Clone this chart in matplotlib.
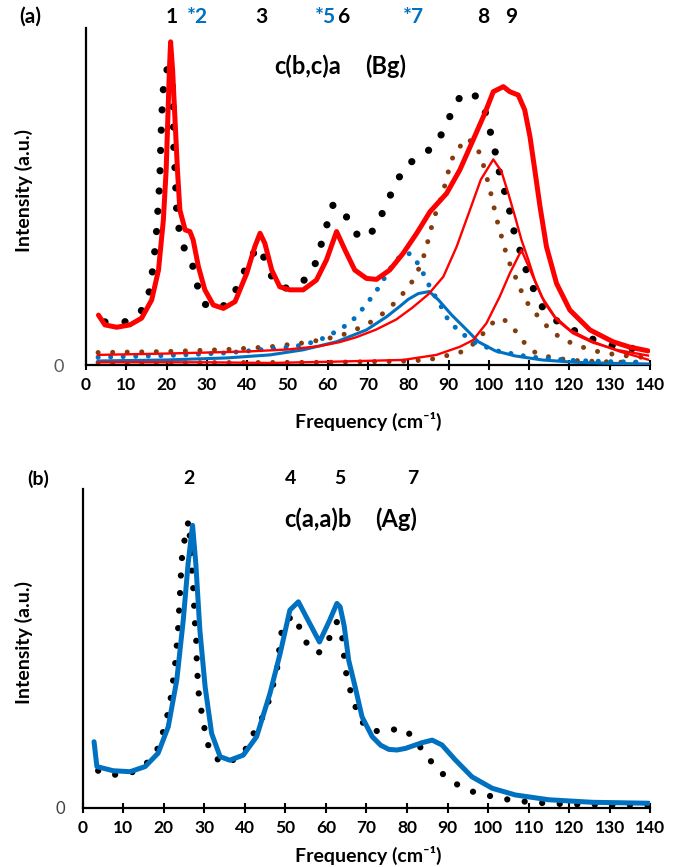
import numpy as np
import matplotlib
matplotlib.use('Agg')
import matplotlib.pyplot as plt

plt.rcParams['font.family'] = ['Lato', 'DejaVu Sans']

W, H = 684, 867

# ---------------- (a) c(b,c)a  Bg ----------------
exp_a_f = [4.7, 9.3, 13.4, 15.5, 16.3, 16.9, 17.4, 17.7, 18.1, 18.4, 18.6, 18.8, 19.0, 19.4, 20.2,
           21.4, 21.6, 21.7, 21.8, 22.1, 22.3, 22.5, 23.1, 24.4, 26.5, 27.6, 29.5, 31.5, 34.1, 37.0,
           39.0, 41.1, 43.2, 44.8, 46.9, 49.3, 51.6, 54.8, 57.2, 58.5, 59.9, 61.4, 64.3, 66.5, 68.5,
           70.2, 72.8, 74.8, 76.9, 79.2, 83.1, 86.8, 89.1, 91.1, 93.5, 97.3, 99.4, 100.5, 101.7,
           102.7, 104.0, 105.2, 106.2, 107.7, 109.2, 111.0, 113.1, 116.4, 120.9, 125.2, 130.0,
           135.0, 139.5]
exp_a_i = [12.8, 12.6, 15.3, 20.5, 26.0, 31.8, 37.6, 43.5, 50.0, 58.0, 67.3, 73.2, 78.9, 84.8, 88.0,
           84.0, 78.0, 72.0, 64.0, 58.0, 52.0, 46.0, 40.3, 34.6, 29.4, 23.7, 18.1, 16.5, 17.5, 21.8,
           27.0, 32.6, 35.1, 29.7, 24.2, 22.8, 23.2, 25.7, 30.7, 36.3, 42.0, 47.8, 44.8, 39.6, 37.5,
           38.1, 43.0, 48.5, 53.7, 59.1, 62.0, 65.3, 70.4, 75.9, 80.9, 79.6, 74.2, 68.5, 62.6,
           56.7, 51.1, 45.5, 39.9, 34.1, 28.4, 22.8, 17.5, 13.4, 10.4, 7.9, 5.9,
           5.0, 4.3]

fit_a_f = [3.1, 4.7, 7.6, 10.9, 13.8, 16.3, 18.0, 19.2, 19.9, 20.3, 20.7, 21.0, 21.5, 22.1, 22.7,
           23.3, 24.6, 25.8, 26.6, 27.9, 29.5, 31.6, 34.1, 37.0, 39.9, 41.9, 43.2, 44.4, 46.1, 48.1,
           50.6, 53.9, 57.2, 59.7, 62.2, 64.3, 66.7, 69.6, 72.1, 75.4, 78.7, 82.1, 85.4, 89.5, 92.8,
           96.1, 99.0, 101.1, 103.6, 105.2, 107.3, 108.9, 110.2, 111.4, 112.7, 114.3, 116.8, 120.1,
           125.1, 130.8, 135.0, 139.5]
fit_a_i = [14.8, 11.9, 11.2, 11.9, 13.9, 19.3, 28.2, 43.0, 57.9, 72.7, 87.5, 95.9, 87.5, 72.7, 57.9,
           46.0, 40.1, 39.6, 37.1, 29.2, 22.3, 17.8, 16.8, 18.8, 27.2, 35.1, 39.1, 36.1, 28.2, 23.2,
           22.3, 22.3, 25.2, 31.2, 39.6, 34.1, 28.2, 25.7, 25.4, 28.2, 33.1, 39.1, 45.5, 50.9, 57.9,
           66.8, 74.7, 81.1, 82.6, 81.1, 80.1, 75.7, 67.8, 57.9, 47.0, 35.1, 24.2, 16.3,
           10.4, 6.9, 5.3, 4.2]

# band 8 component (red, thin)
c8_f = [3, 20, 40, 50, 58, 63, 67, 72, 77, 81, 85, 88.7, 92, 95.3, 98, 101.1, 103.1, 104.8, 106.5,
        108.1, 109.8, 111.4, 113.9, 116.8, 120.9, 125.9, 131.7, 139.5]
c8_i = [3.0, 3.4, 4.0, 4.6, 5.6, 6.8, 8.2, 10.5, 13.5, 17.0, 21.0, 26.2, 35.1, 46.0, 55.0, 61.0,
        57.5, 51.0, 44.0, 37.1, 31.2, 25.2, 18.3, 13.4, 9.4, 6.6, 4.5, 2.8]

# band 9 component (red, thin)
c9_f = [3, 30, 45.7, 62, 78.7, 87, 92.8, 96.1, 99.4, 102.7, 105.2, 108.1, 110.6, 113.1, 116.4,
        120.1, 125.9, 132.5, 139.5]
c9_i = [0.8, 0.8, 0.6, 1.0, 1.5, 3.0, 5.4, 7.4, 12.4, 20.3, 27.2, 34.1, 27.2, 20.3, 14.3,
        10.4, 6.9, 4.0, 1.6]

# band near 85 (blue, solid)
cb_f = [3, 20, 35, 45.7, 53.9, 62.2, 69.6, 74.6, 78.0, 80.0, 82.5, 85.2, 87.5, 90.8, 94.1, 97.4,
        101.6, 106.5, 113.2, 121.4, 130, 139.6]
cb_i = [1.2, 1.5, 2.1, 3.0, 4.5, 6.9, 10.4, 14.3, 17.5, 19.5, 21.2, 21.8, 19.3, 14.8, 10.9, 6.9,
        4.2, 2.7, 1.5, 0.8, 0.5, 0.3]

# band *7 (blue, dotted)
c7_f = [3, 20, 35, 48.6, 51.4, 54.3, 57.2, 60.2, 62.9, 65.5, 67.6, 69.6, 71.7, 73.4, 75.0, 76.7,
        78.8, 80.5, 81.7, 83.3, 84.7, 86.2, 87.8, 89.1, 91.0, 93.5, 97, 102, 110, 120, 130, 139.5]
c7_i = [2.3, 2.8, 3.6, 5.1, 5.4, 6.1, 7.1, 8.6, 10.6, 12.4, 15.1, 18.1, 21.3, 24.4, 27.7, 30.7,
        33.1, 33.0, 31.4, 28.2, 24.7, 21.3, 18.3, 14.8, 11.9, 9.2, 6.3, 4.2, 2.4, 1.4, 1.0, 0.8]

# brown dotted components
br1_f = [3, 20, 35, 45.7, 55, 63, 66.3, 69.6, 72.5, 75.4, 77.5, 80, 82.1, 83.5, 84.5, 85.4, 86.2,
         87.4, 88.5, 89.5, 90.3, 91.6, 93.2, 94.5, 96.8, 98.2, 100.1, 100.9, 101.7, 102.6, 103.6,
         104.5, 105.9, 107.3, 108.6, 110.6, 113.1, 115.3, 118.4, 121.8, 125, 128.4, 132.1, 135.8,
         139.1]
br1_i = [3.7, 4.0, 4.6, 5.4, 6.7, 8.6, 10.2, 11.9, 14.2, 16.8, 19.8, 22.8, 27.2, 30.9, 35.1, 39.1,
         43.0, 47.0, 50.9, 55.1, 59.3, 63.3, 65.3, 67.3, 65.3, 61.3, 52.9, 48.8, 44.5, 40.3, 36.3,
         32.1, 28.0, 24.2, 20.3, 16.5, 13.4, 10.2, 7.6, 5.9, 4.6, 3.6, 3.0, 2.5,
         2.2]
br2_f = [3, 30, 60, 78, 85, 88.3, 92.5, 95.4, 98, 100.5, 103.4, 106.1, 108.6, 111, 114, 118, 122,
         128, 134, 139.5]
br2_i = [0.7, 0.7, 0.8, 1.1, 1.5, 2.5, 3.5, 5.4, 8.5, 12.2, 13.9, 10.9, 6.9, 4.0, 2.6, 1.8, 1.3,
         1.0, 0.8, 0.7]

labels_a = ['1', '*2', '3', '*5', '6', '*7', '8', '9']
labels_a_x = [172, 197, 261, 325, 343, 413, 483, 511]
labels_a_c = ['k', 'b', 'k', 'b', 'k', 'b', 'k', 'k']

# ---------------- (b) c(a,a)b  Ag ----------------
exp_b_f = [3.8, 7.5, 11.7, 15.4, 18.2, 19.5, 20.5, 21.4, 22.0, 22.5, 23.0, 23.3, 23.6, 23.8, 24.0,
           24.2, 24.4, 25.0, 25.5, 26.2, 26.7, 27.0, 27.3, 27.5, 27.7, 28.0, 28.1, 28.3, 28.5, 29.1,
           29.7, 30.4, 31.4, 34.3, 38.4, 41.0, 42.5, 44.4, 45.8, 46.9, 47.9, 48.4, 48.7, 49.9, 52.0,
           54.0, 55.3, 58.1, 60.6, 62.7, 64.0, 64.8, 65.6, 66.9, 68.1, 70.4, 74.2, 78.1, 79.2, 81.1,
           83.5, 86.0, 88.6, 91.9, 95.4, 99.3, 103.3, 107.1, 111.2, 114.9, 120, 130, 139.5]
exp_b_i = [11.6, 10.3, 10.8, 13.4, 17.6, 22.3, 27.0, 31.7, 36.9, 42.1, 47.3, 52.6, 57.3, 62.5, 67.2,
           72.4, 77.6, 82.9, 87.6, 90.0, 78.7, 73.5, 68.2, 63.0, 57.8, 52.6, 47.3, 42.1, 36.9, 31.7,
           27.3, 22.3, 17.6, 13.9, 15.5, 19.7, 24.4, 28.5, 33.2, 38.2, 43.2, 48.2, 53.6, 58.3, 60.4,
           55.2, 51.5, 48.4, 52.6, 58.3, 53.6, 43.4, 38.5, 33.2, 28.5, 24.4, 23.8, 24.9, 24.9, 22.5,
           18.6, 14.4, 10.8, 7.6, 5.3, 4.0, 2.9, 2.1, 1.7, 1.3, 1.1, 0.9, 0.8]

fit_b_f = [2.8, 3.5, 7.5, 11.7, 15.4, 18.6, 21.1, 23.2, 24.8, 26.0, 27.1, 27.9, 28.9, 30.2, 31.8,
           33.9, 36.3, 39.6, 42.9, 46.2, 48.7, 51.1, 53.2, 55.5, 58.4, 60.8, 62.7, 63.5, 64.5, 65.6,
           67.2, 68.9, 71.4, 73.5, 75.5, 77.5, 79.6, 83.7, 86.2, 88.6, 91.9, 96.0, 101.0, 106.7,
           114.9, 125.6, 139.6]
fit_b_i = [20.7, 12.9, 11.6, 11.3, 12.9, 17.1, 25.4, 40.0, 58.8, 76.6, 88.6, 76.6, 55.7, 37.9, 23.3,
           16.0, 14.9, 16.5, 22.3, 35.9, 48.4, 62.0, 64.6, 59.0, 52.0, 58.5, 64.1, 63.0, 57.0, 46.3,
           37.9, 28.5, 22.3, 19.6, 18.3, 18.1, 18.6, 20.4, 21.2, 19.7, 15.0, 9.7, 6.1, 4.0,
           2.5, 1.7, 1.4]

labels_b = ['2', '4', '5', '7']
labels_b_x = [189, 291, 340, 413]

RED = '#FF0000'
BLUE = '#0070C0'
BROWN = '#843C0C'


def fx(x):
    return x / W


def fy(y):
    return 1 - y / H


def dotted(ax, f, i, color, lw, gap, z):
    ax.plot(f, i, color=color, lw=lw, linestyle=(0, (0.01, gap)),
            dash_capstyle='round', zorder=z)


def style_axes(ax, zero_color, zero_size, zero_pad):
    ax.set_xlim(0, 140)
    ax.set_ylim(0, 100)
    ax.spines['top'].set_visible(False)
    ax.spines['right'].set_visible(False)
    for s in ('left', 'bottom'):
        ax.spines[s].set_linewidth(1.6)
    ax.set_xticks(np.arange(0, 141, 10))
    ax.tick_params(axis='x', direction='inout', length=7.5, width=1.5, pad=5,
                   labelsize=12.5)
    for t in ax.get_xticklabels():
        t.set_fontweight('bold')
    ax.set_yticks([0])
    ax.tick_params(axis='y', length=0, pad=zero_pad, labelsize=zero_size,
                   labelcolor=zero_color)


fig = plt.figure(figsize=(W / 100, H / 100), dpi=100)

# panel (a)
ax1 = fig.add_axes([fx(86), fy(365), (650 - 86) / W, (365 - 28) / H])
style_axes(ax1, '#595959', 13, 16)
dotted(ax1, br2_f, br2_i, BROWN, 3.6, 2.9, 2)
dotted(ax1, br1_f, br1_i, BROWN, 3.6, 2.9, 2)
dotted(ax1, c7_f, c7_i, BLUE, 3.6, 2.5, 3)
dotted(ax1, exp_a_f, exp_a_i, 'k', 5.2, 2.8, 4)
ax1.plot(cb_f, cb_i, color=BLUE, lw=2.2, zorder=5, solid_joinstyle='round')
ax1.plot(c9_f, c9_i, color=RED, lw=1.7, zorder=5, solid_joinstyle='round')
ax1.plot(c8_f, c8_i, color=RED, lw=1.7, zorder=5, solid_joinstyle='round')
ax1.plot(fit_a_f, fit_a_i, color=RED, lw=3.6, zorder=6, solid_joinstyle='round',
         solid_capstyle='round')

# panel (b)
ax2 = fig.add_axes([fx(82.7), fy(807.7), (650.3 - 82.7) / W, (807.7 - 489) / H])
style_axes(ax2, '#404040', 12, 13)
dotted(ax2, exp_b_f, exp_b_i, 'k', 4.5, 2.8, 4)
ax2.plot(fit_b_f, fit_b_i, color=BLUE, lw=3.6, zorder=5, solid_joinstyle='round',
         solid_capstyle='round')

# text
bold = dict(fontweight='bold', ha='center', va='center')
fig.text(fx(30), fy(17), '(a)', fontsize=15, **bold)
fig.text(fx(38), fy(479), '(b)', fontsize=14, **bold)
for s, x, c in zip(labels_a, labels_a_x, labels_a_c):
    fig.text(fx(x), fy(17), s, fontsize=15, color=BLUE if c == 'b' else 'black', **bold)
for s, x in zip(labels_b, labels_b_x):
    fig.text(fx(x), fy(478), s, fontsize=14, **bold)
fig.text(fx(308), fy(66), 'c(b,c)a', fontsize=17, **bold)
fig.text(fx(386), fy(66), '(Bg)', fontsize=17, **bold)
fig.text(fx(318), fy(519), 'c(a,a)b', fontsize=17, **bold)
fig.text(fx(396), fy(519), '(Ag)', fontsize=17, **bold)

for y in (421, 855):
    fig.text(fx(368), fy(y), 'Frequency (cm⁻¹)', fontsize=14, **bold)
for y in (190, 643):
    fig.text(fx(24), fy(y), 'Intensity (a.u.)', fontsize=14, rotation=90, **bold)

fig.savefig('out.png', dpi=100)
